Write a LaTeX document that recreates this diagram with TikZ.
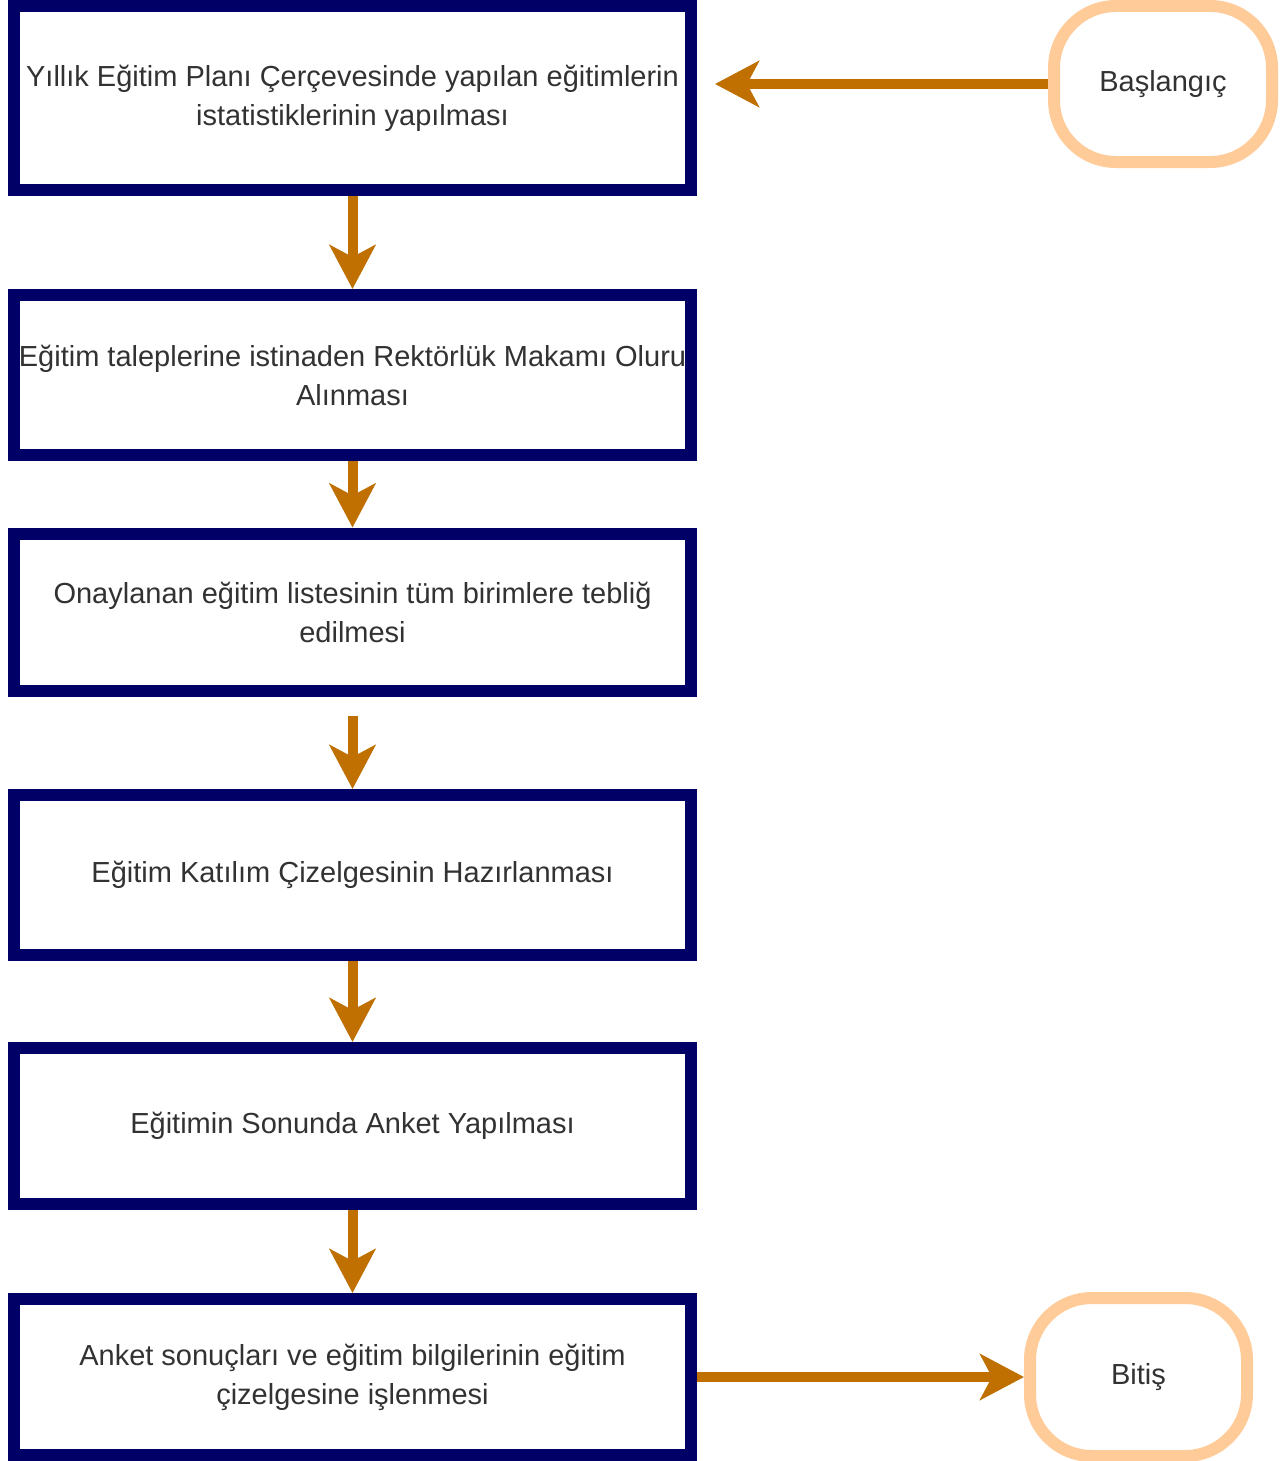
\documentclass[tikz,border=0pt]{standalone}
\usepackage{fontspec}
\setmainfont{Liberation Sans}
\usetikzlibrary{arrows.meta}
\definecolor{navyb}{RGB}{0,0,102}
\definecolor{arrowc}{RGB}{191,112,0}
\definecolor{peach}{RGB}{255,204,153}
\definecolor{txt}{RGB}{50,50,50}
\begin{document}
\begin{tikzpicture}[x=1pt,y=-1pt,
  every node/.style={font=\fontsize{29}{39}\selectfont, text=txt, align=center},
  stepbox/.style={draw=navyb, line width=12pt, fill=white, minimum width=677pt, inner sep=0pt},
  term/.style={draw=peach, line width=12pt, fill=white, rounded corners=62pt, inner sep=0pt},
  flow/.style={draw=arrowc, line width=10pt, -{Stealth[length=44pt, width=46pt, inset=12pt]}}
]
\useasboundingbox (0,0) rectangle (1282,1461);
\fill[white] (0,0) rectangle (1282,1461);

\node[stepbox, minimum height=184pt] (b1) at (352.5,98) {Yıllık Eğitim Planı Çerçevesinde yapılan eğitimlerin\\istatistiklerinin yapılması};
\node[stepbox, minimum height=160pt] (b2) at (352.5,375) {Eğitim taleplerine istinaden Rektörlük Makamı Oluru\\Alınması};
\node[stepbox, minimum height=157pt] (b3) at (352.5,612) {Onaylanan eğitim listesinin tüm birimlere tebliğ\\edilmesi};
\node[stepbox, minimum height=160pt] (b4) at (352.5,875) {Eğitim Katılım Çizelgesinin Hazırlanması};
\node[stepbox, minimum height=156pt] (b5) at (352.5,1126) {Eğitimin Sonunda Anket Yapılması};
\node[stepbox, minimum height=156pt] (b6) at (352.5,1377) {Anket sonuçları ve eğitim bilgilerinin eğitim\\çizelgesine işlenmesi};

\node[term, minimum width=218pt, minimum height=156pt] (start) at (1163,84) {Başlangıç};
\node[term, minimum width=217pt, minimum height=158pt] (end) at (1138.5,1377) {Bitiş};

\coordinate (t1) at (715,84);
\draw[flow] (start.west) -- (t1);
\draw[flow] (b1.south) -- (b2.north);
\draw[flow] (b2.south) -- (b3.north);
\draw[flow] ([yshift=-19pt]b3.south) -- (b4.north);
\draw[flow] (b4.south) -- (b5.north);
\draw[flow] (b5.south) -- (b6.north);
\draw[flow] (b6.east) -- (end.west);
\end{tikzpicture}
\end{document}
